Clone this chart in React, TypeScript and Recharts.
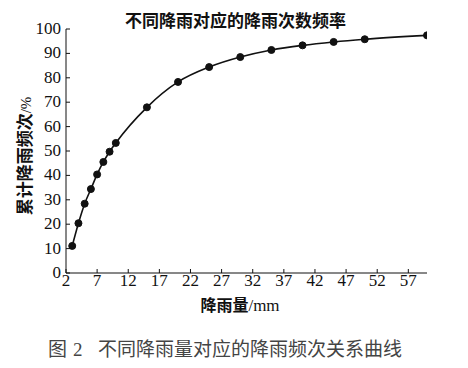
import { LineChart, Line, XAxis, YAxis, Label } from "recharts";

// rainfall depth (mm) and cumulative frequency (%)
const rainfall = [3, 4, 5, 6, 7, 8, 9, 10, 15, 20, 25, 30, 35, 40, 45, 50, 60];
const frequency = [11.1, 20.4, 28.4, 34.4, 40.4, 45.5, 49.7, 53.3, 67.9, 78.3, 84.4, 88.5, 91.4, 93.3, 94.7, 95.8, 97.4];
const xTicks = [2, 7, 12, 17, 22, 27, 32, 37, 42, 47, 52, 57];
const yTicks = [0, 10, 20, 30, 40, 50, 60, 70, 80, 90, 100];

const data = rainfall.map((x, i) => ({ x, y: frequency[i] }));

const serif = "Liberation Serif";
const cjk = "Noto Sans CJK SC";

const XTick = (props: any) => {
  const { x, y, payload } = props;
  return (
    <text x={x} y={y + 13} textAnchor="middle" style={{ fontFamily: serif, fontSize: 17, fill: "#111" }}>
      {payload.value}
    </text>
  );
};

const YTick = (props: any) => {
  const { x, y, payload } = props;
  return (
    <text x={x} y={y + 5} textAnchor="end" style={{ fontFamily: serif, fontSize: 17, fill: "#111" }}>
      {payload.value}
    </text>
  );
};

const XTitle = (props: any) => {
  const vb = props.viewBox;
  return (
    <text x={240} y={vb.y + vb.height + 8} textAnchor="middle" style={{ fill: "#111" }}>
      <tspan style={{ fontFamily: cjk, fontWeight: 700, fontSize: 16 }}>降雨量</tspan>
      <tspan style={{ fontFamily: serif, fontSize: 17 }}>/mm</tspan>
    </text>
  );
};

const YTitle = () => (
  <text x={0} y={0} transform="translate(31 156) rotate(-90)" textAnchor="middle" style={{ fill: "#111" }}>
    <tspan style={{ fontFamily: cjk, fontWeight: 700, fontSize: 17 }}>累计降雨频次</tspan>
    <tspan style={{ fontFamily: serif, fontSize: 15 }}>/%</tspan>
  </text>
);

export default function App() {
  return (
    <div style={{ position: "absolute", left: 0, top: 0, width: 468, height: 368, background: "#fff" }}>
      <LineChart width={468} height={368} data={data} margin={{ top: 29, right: 41, left: 0, bottom: 65 }}>
        <XAxis
          dataKey="x"
          type="number"
          domain={[2, 60]}
          ticks={xTicks}
          interval={0}
          allowDataOverflow
          height={30}
          stroke="#111"
          tickSize={-4}
          tickMargin={4}
          tick={<XTick />}
        >
          <Label content={<XTitle />} />
        </XAxis>
        <YAxis
          type="number"
          domain={[0, 100]}
          ticks={yTicks}
          interval={0}
          width={66}
          stroke="#111"
          tickSize={-4}
          tickMargin={9}
          tick={<YTick />}
        >
          <Label content={<YTitle />} />
        </YAxis>
        <Line
          type="monotone"
          dataKey="y"
          stroke="#111"
          strokeWidth={1.6}
          dot={{ r: 3.5, fill: "#111", stroke: "#111", strokeWidth: 1 }}
          isAnimationActive={false}
        />
      </LineChart>
      <div
        style={{
          position: "absolute",
          left: 125,
          top: 9,
          fontFamily: cjk,
          fontWeight: 700,
          fontSize: 17,
          color: "#111",
          lineHeight: "22px",
          whiteSpace: "nowrap",
        }}
      >
        不同降雨对应的降雨次数频率
      </div>
      <div
        style={{
          position: "absolute",
          left: 48,
          top: 336,
          fontSize: 19,
          color: "#444",
          lineHeight: "24px",
          whiteSpace: "nowrap",
        }}
      >
        <span style={{ fontFamily: cjk }}>图</span>
        <span style={{ fontFamily: serif, marginLeft: 6 }}>2</span>
      </div>
      <div
        style={{
          position: "absolute",
          left: 98,
          top: 336,
          fontFamily: cjk,
          fontSize: 19,
          color: "#444",
          lineHeight: "24px",
          whiteSpace: "nowrap",
        }}
      >
        不同降雨量对应的降雨频次关系曲线
      </div>
    </div>
  );
}
